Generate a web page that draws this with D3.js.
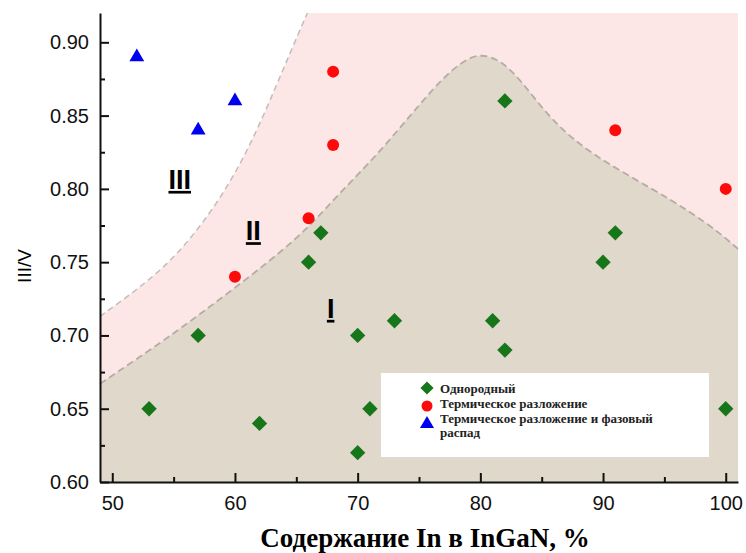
<!DOCTYPE html>
<html>
<head>
<meta charset="utf-8">
<script src="https://cdn.jsdelivr.net/npm/d3@7"></script>
<style>
body{margin:0;background:#fff;}
</style>
</head>
<body>
<div id="svg-container"></div>
<script>
// data
var uniform = [[53,0.65],[57,0.70],[62,0.64],[66,0.75],[67,0.77],[70,0.70],[70,0.62],[71,0.65],[73,0.71],[81,0.71],[82,0.69],[82,0.86],[90,0.75],[91,0.77],[100,0.65]];
var thermal = [[60,0.74],[66,0.78],[68,0.83],[68,0.88],[91,0.84],[100,0.80]];
var thermalPhase = [[52,0.89],[57,0.84],[60,0.86]];
// region borders
var upperBorder = [[49,0.713],[52,0.731],[55,0.752],[58,0.783],[60.5,0.817],[62.5,0.853],[64.3,0.889],[65.9,0.920]];
var lowerBorder = [[49,0.667],[54.5,0.698],[59.8,0.731],[65.3,0.767],[68,0.7925],[71,0.818],[73.7,0.844],[76.3,0.870],[78.3,0.886],[80,0.893],[81.8,0.887],[83.4,0.873],[85.4,0.851],[87.5,0.834],[90,0.819],[94,0.800],[97,0.785],[99.5,0.770],[101,0.759]];
var xTicks = [50,60,70,80,90,100];
var yTicks = [0.60,0.65,0.70,0.75,0.80,0.85,0.90];
var legendNames = ["Однородный","Термическое разложение","Термическое разложение и фазовый"];

var W = 746, H = 553;
var m = {l:100, t:13, r:8, b:71};

var svg = d3.select("#svg-container").append("svg").attr("width",W).attr("height",H);

var x = d3.scaleLinear().domain([49,101]).range([m.l, W-m.r]);
var y = d3.scaleLinear().domain([0.60,0.92]).range([H-m.b, m.t]);

var line = d3.line().x(d=>x(d[0])).y(d=>y(d[1])).curve(d3.curveBasis);

// pink region II
var pinkPath = line(upperBorder) + "L" + x(101) + "," + y(0.92) + "L" + x(101) + "," + y(0.60) + "L" + x(49) + "," + y(0.60) + "Z";
svg.append("path").attr("d",pinkPath).attr("fill","#fde6e6");
// beige region I
var beigePath = line(lowerBorder) + "L" + x(101) + "," + y(0.60) + "L" + x(49) + "," + y(0.60) + "Z";
svg.append("path").attr("d",beigePath).attr("fill","#dfd8cb");

svg.append("path").attr("d",line(upperBorder)).attr("fill","none").attr("stroke","#c4bcbc").attr("stroke-width",1.5).attr("stroke-dasharray","6,4");
svg.append("path").attr("d",line(lowerBorder)).attr("fill","none").attr("stroke","#b5aca6").attr("stroke-width",1.8).attr("stroke-dasharray","7,4");

// region labels
var regs = [["III",55.5,0.800],["II",61.5,0.765],["I",67.8,0.712]];
svg.selectAll(".reg").data(regs).enter().append("text")
  .attr("x",d=>x(d[1])).attr("y",d=>y(d[2]))
  .attr("text-anchor","middle")
  .style("font-family","'Liberation Sans',Arial,sans-serif").style("font-weight","bold").style("font-size","27px")
  .style("text-decoration","underline")
  .text(d=>d[0]);

// axes
var xAxis = d3.axisBottom(x).tickValues(d3.range(50,101,5)).tickSizeInner(-9).tickSizeOuter(0).tickFormat(d=>xTicks.indexOf(d)>=0?d:"");
var gx = svg.append("g").attr("transform","translate(0,"+(H-m.b)+")").call(xAxis);
gx.selectAll(".tick line").attr("y2",d=>xTicks.indexOf(d)>=0?-9:-5);
var yAxis = d3.axisLeft(y).tickValues(d3.range(0,13).map(i=>0.60+i*0.025)).tickSizeInner(-9).tickSizeOuter(0).tickFormat(d=>yTicks.some(t=>Math.abs(t-d)<1e-6)?d3.format(".2f")(d):"");
var gy = svg.append("g").attr("transform","translate("+m.l+",0)").call(yAxis);
gy.selectAll(".tick line").attr("x2",d=>yTicks.some(t=>Math.abs(t-d)<1e-6)?9:5);

[gx,gy].forEach(function(g){
  g.select(".domain").attr("stroke","#111").attr("stroke-width",2);
  g.selectAll(".tick line").attr("stroke","#111").attr("stroke-width",2);
  g.selectAll(".tick text").style("font-family","'Liberation Sans',Arial,sans-serif").style("font-size","20px").attr("fill","#111");
});
gx.selectAll(".tick text").attr("y",14);
gy.selectAll(".tick text").attr("x",-11);

// axis titles
svg.append("text").attr("x",425).attr("y",547).attr("text-anchor","middle")
  .style("font-family","'Liberation Serif','Times New Roman',serif").style("font-weight","bold").style("font-size","27px")
  .text("Содержание In в InGaN, %");
svg.append("text").attr("transform","translate(31,266) rotate(-90)").attr("text-anchor","middle")
  .style("font-family","'Liberation Sans',Arial,sans-serif").style("font-size","19px")
  .text("III/V");

// markers
var green = "#18761a", red = "#ff0a0a", blue = "#0000f0";
svg.selectAll(".dia").data(uniform).enter().append("path")
  .attr("d",d3.symbol().type(d3.symbolDiamond2).size(150))
  .attr("transform",d=>"translate("+x(d[0])+","+y(d[1])+")").attr("fill",green);
svg.selectAll(".cir").data(thermal).enter().append("circle")
  .attr("cx",d=>x(d[0])).attr("cy",d=>y(d[1])).attr("r",6).attr("fill",red);
svg.selectAll(".tri").data(thermalPhase).enter().append("path")
  .attr("d",d3.symbol().type(d3.symbolTriangle).size(95))
  .attr("transform",d=>"translate("+x(d[0])+","+y(d[1])+")").attr("fill",blue);

// legend
var lg = svg.append("g");
lg.append("rect").attr("x",381).attr("y",373).attr("width",328).attr("height",84).attr("fill","#fff");
var rows = [388,406,423];
lg.append("path").attr("d",d3.symbol().type(d3.symbolDiamond2).size(110)).attr("transform","translate(427,"+rows[0]+")").attr("fill",green);
lg.append("circle").attr("cx",427).attr("cy",rows[1]).attr("r",5.5).attr("fill",red);
lg.append("path").attr("d",d3.symbol().type(d3.symbolTriangle).size(85)).attr("transform","translate(427,"+(rows[2]+1)+")").attr("fill",blue);
lg.selectAll(".lt").data(legendNames.concat(["распад"])).enter().append("text")
  .attr("x",440).attr("y",(d,i)=>[393,408,423,437][i])
  .style("font-family","'Liberation Serif','Times New Roman',serif").style("font-weight","bold").style("font-size","13px").attr("fill","#222")
  .text(d=>d);
</script>
</body>
</html>
